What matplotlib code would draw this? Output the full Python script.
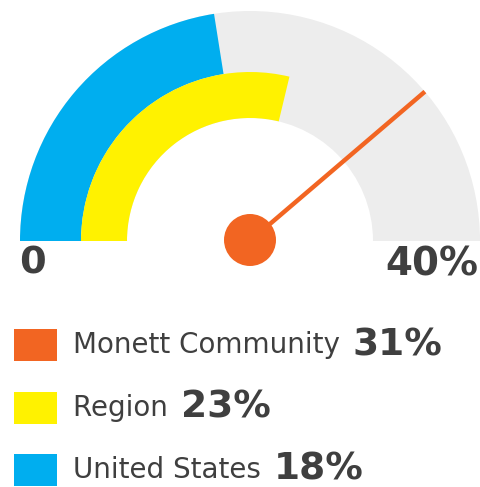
import matplotlib
matplotlib.use("Agg")
import matplotlib.pyplot as plt
from matplotlib.patches import Wedge, Circle, Rectangle
import numpy as np

plt.rcParams["font.family"] = ["DejaVu Sans"]

categories = ["Monett Community", "Region", "United States"]
values = [31, 23, 18]
colors = ["#F26522", "#FFF200", "#00AEEF"]
scale_min, scale_max = 0, 40
scale_labels = ["0", "40%"]

W, H = 481, 487
fig = plt.figure(figsize=(W / 100, H / 100), dpi=100)
ax = fig.add_axes([0, 0, 1, 1])
ax.set_xlim(0, W)
ax.set_ylim(0, H)
ax.set_aspect("equal")
ax.axis("off")

cx, cy = 250, 246
R_out, R_mid, R_in = 230, 169, 123
gray = "#EDEDED"
text_col = "#3F3F3F"


def ang(v):
    return 180 - (v - scale_min) / (scale_max - scale_min) * 180


# background
ax.add_patch(Wedge((cx, cy), R_out, 0, 180, width=R_out - R_in, facecolor=gray, edgecolor="none"))
# United States (outer)
ax.add_patch(Wedge((cx, cy), R_out, ang(values[2]), 180, width=R_out - R_mid,
                   facecolor=colors[2], edgecolor="none"))
# Region (inner)
ax.add_patch(Wedge((cx, cy), R_mid, ang(values[1]), 180, width=R_mid - R_in,
                   facecolor=colors[1], edgecolor="none"))
# needle
a = np.deg2rad(ang(values[0]))
ax.plot([cx, cx + R_out * np.cos(a)], [cy, cy + R_out * np.sin(a)], color=colors[0],
        lw=3.2, solid_capstyle="butt")
ax.add_patch(Circle((cx, cy + 1), 26, facecolor=colors[0], edgecolor="none"))

ax.text(19, 223, scale_labels[0], ha="left", va="center", fontsize=27.5, fontweight="bold", color=text_col)
ax.text(478, 223, scale_labels[1], ha="right", va="center", fontsize=28, fontweight="bold", color=text_col)

# legend
row_y = [142, 79, 17]
for cat, val, col, y in zip(categories, values, colors, row_y):
    ax.add_patch(Rectangle((14, y - 16), 43, 32, facecolor=col, edgecolor="none"))
    t = ax.text(73, y, cat + " ", ha="left", va="center", fontsize=20, color=text_col)
    fig.canvas.draw()
    bb = t.get_window_extent()
    ax.text(bb.x1 + 4, y, f"{val}%", ha="left", va="center", fontsize=27, fontweight="bold", color=text_col)

fig.savefig("out.png", dpi=100)
